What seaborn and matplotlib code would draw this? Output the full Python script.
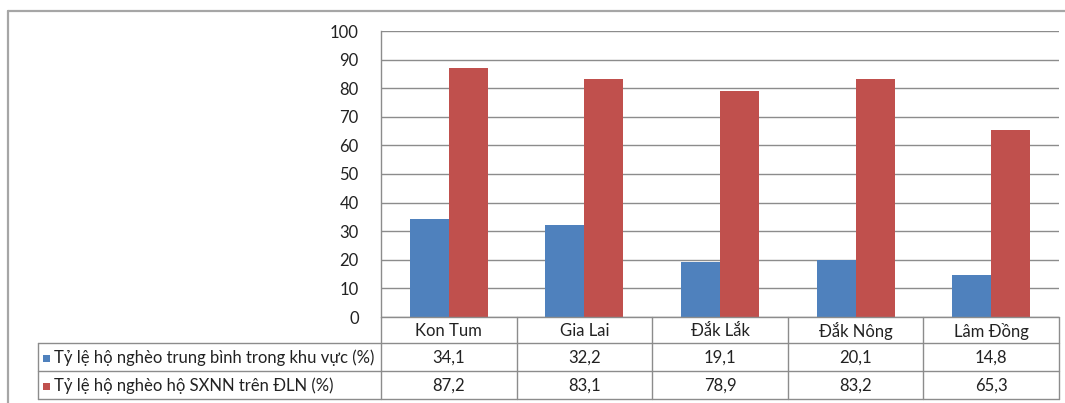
import matplotlib
matplotlib.use("Agg")
import matplotlib.pyplot as plt
from matplotlib.lines import Line2D
from matplotlib.patches import Rectangle
import seaborn as sns
import pandas as pd

provinces = ["Kon Tum", "Gia Lai", "Đắk Lắk", "Đắk Nông", "Lâm Đồng"]
series_names = [
    "Tỷ lệ hộ nghèo trung bình trong khu vực (%)",
    "Tỷ lệ hộ nghèo hộ SXNN trên ĐLN (%)",
]
avg_poverty = [34.1, 32.2, 19.1, 20.1, 14.8]
sxnn_poverty = [87.2, 83.1, 78.9, 83.2, 65.3]
y_ticks = [0, 10, 20, 30, 40, 50, 60, 70, 80, 90, 100]
colors = ["#4F81BD", "#C0504D"]

df = pd.DataFrame({
    "province": provinces * 2,
    "series": [series_names[0]] * 5 + [series_names[1]] * 5,
    "value": avg_poverty + sxnn_poverty,
})

sns.set_theme(style="white")
plt.rcParams["font.family"] = ["Lato", "DejaVu Sans"]

W, H = 1065, 403
fig = plt.figure(figsize=(W / 100, H / 100), dpi=100)

x0, x1 = 381, 1059
y_top, y_zero = 31, 317
ax = fig.add_axes([x0 / W, 1 - y_zero / H, (x1 - x0) / W, (y_zero - y_top) / H])

sns.barplot(data=df, x="province", y="value", hue="series", order=provinces,
            hue_order=series_names, palette=colors, width=0.575, saturation=1,
            legend=False, ax=ax)
for p in ax.patches:
    p.set_edgecolor("none")

ax.set_ylim(0, 100)
ax.set_xlim(-0.5, 4.5)
ax.set_yticks(y_ticks)
ax.set_yticklabels([str(t) for t in y_ticks], fontsize=12, color="#222222")
ax.tick_params(axis="y", length=0, pad=16)
ax.set_xticks([])
ax.set_xlabel("")
ax.set_ylabel("")
ax.yaxis.grid(True, color="#8c8c8c", linewidth=1.0)
ax.set_axisbelow(True)
for s in ["top", "right", "bottom"]:
    ax.spines[s].set_visible(False)
ax.spines["left"].set_color("#8c8c8c")
ax.spines["left"].set_linewidth(1.0)


def fx(px):
    return px / W


def fy(py):
    return 1 - py / H


def hline(xa, xb, y, color="#8c8c8c", lw=1.0):
    fig.add_artist(Line2D([fx(xa), fx(xb)], [fy(y), fy(y)], color=color, lw=lw))


def vline(x, ya, yb, color="#8c8c8c", lw=1.0):
    fig.add_artist(Line2D([fx(x), fx(x)], [fy(ya), fy(yb)], color=color, lw=lw))


# Outer chart border
hline(8, W, 11, color="#a6a6a6", lw=1.6)
vline(8, 11, H, color="#a6a6a6", lw=1.6)

# Data table under the axis
t_left = 38
r0, r1, r2, r3 = y_zero, 343, 371, 399
col_w = (x1 - x0) / len(provinces)
hline(x0, x1, r0)
hline(t_left, x1, r1)
hline(t_left, x1, r2)
hline(t_left, x1, r3)
vline(t_left, r1, r3)
for i in range(len(provinces) + 1):
    vline(x0 + i * col_w, r0, r3)

for i, name in enumerate(provinces):
    fig.text(fx(x0 + (i + 0.5) * col_w), fy((r0 + r1) / 2 + 1), name,
             ha="center", va="center", fontsize=12, color="#222222")

rows = [avg_poverty, sxnn_poverty]
row_mid = [(r1 + r2) / 2 + 1, (r2 + r3) / 2 + 1]
for k, vals in enumerate(rows):
    ym = row_mid[k]
    fig.add_artist(Rectangle((fx(43), fy(ym + 3.5)), 7 / W, 7 / H,
                             transform=fig.transFigure, color=colors[k], lw=0))
    fig.text(fx(54), fy(ym), series_names[k], ha="left", va="center",
             fontsize=12, color="#222222")
    for i, v in enumerate(vals):
        fig.text(fx(x0 + (i + 0.5) * col_w), fy(ym), f"{v:.1f}".replace(".", ","),
                 ha="center", va="center", fontsize=12, color="#222222")

fig.savefig("out.png", dpi=100)
